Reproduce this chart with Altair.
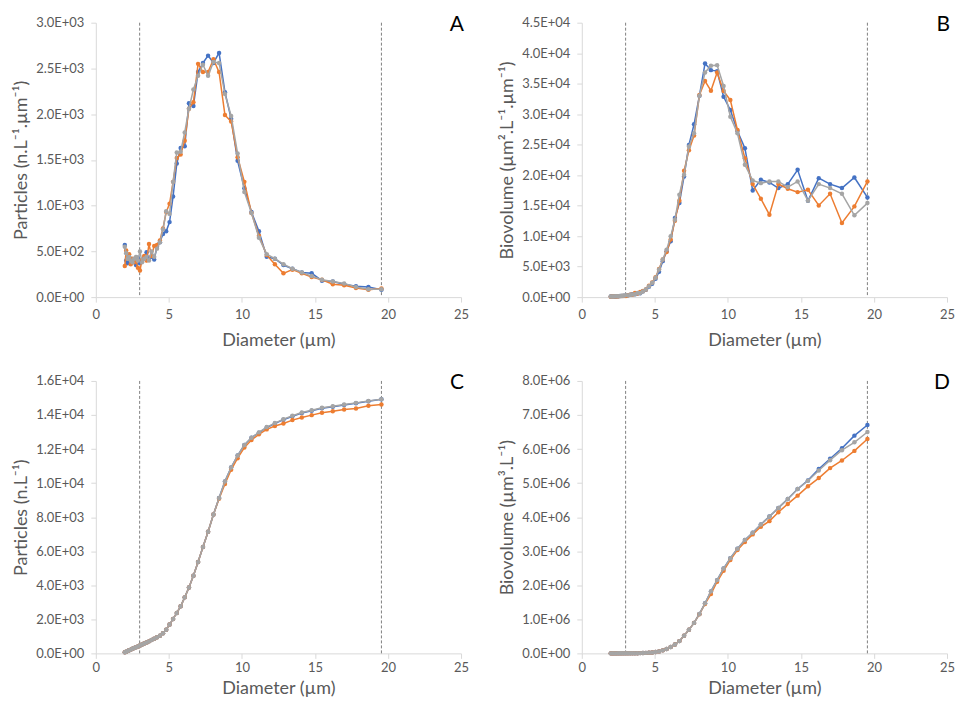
import altair as alt
import pandas as pd

# Bin diameters (µm)
diameter = [1.984, 2.079, 2.178, 2.282, 2.391, 2.506, 2.625, 2.751, 2.882, 3.020,
            3.165, 3.316, 3.474, 3.640, 3.814, 3.997, 4.188, 4.388, 4.598, 4.818,
            5.048, 5.289, 5.542, 5.807, 6.085, 6.375, 6.680, 7.000, 7.334, 7.685,
            8.052, 8.437, 8.840, 9.263, 9.706, 10.169, 10.655, 11.165, 11.698, 12.257,
            12.843, 13.457, 14.101, 14.775, 15.481, 16.221, 16.996, 17.808, 18.660, 19.552]

# Panel A: Particles (n.L-1.µm-1)
a_blue = [570, 400, 370, 400, 420, 380, 400, 350, 430, 370, 400, 430, 490, 420, 440, 410, 550, 600, 690, 720,
          820, 1100, 1460, 1630, 1650, 2120, 2090, 2460, 2560, 2640, 2560, 2670, 2240, 1950, 1490, 1190, 930, 720, 440, 420,
          350, 310, 270, 260, 180, 170, 140, 120, 110, 80]
a_orange = [340, 510, 420, 470, 360, 420, 380, 400, 320, 290, 410, 450, 400, 580, 450, 560, 570, 620, 750, 930,
            1020, 1260, 1520, 1560, 1710, 2060, 2130, 2550, 2460, 2460, 2600, 2460, 1990, 1920, 1530, 1260, 920, 670, 460, 360,
            260, 300, 260, 220, 190, 140, 130, 100, 80, 95]
a_gray = [550, 480, 420, 440, 400, 380, 420, 440, 400, 500, 380, 420, 440, 400, 500, 440, 530, 600, 740, 940,
          910, 1260, 1580, 1590, 1800, 2060, 2270, 2420, 2540, 2420, 2570, 2560, 2220, 1980, 1570, 1150, 920, 650, 470, 420,
          360, 310, 270, 230, 190, 170, 150, 110, 85, 85]

# Panel B: Biovolume (µm2.L-1.µm-1)
b_blue = [107, 86, 92, 113, 137, 143, 173, 174, 246, 243, 303, 375, 491, 484, 583, 626, 965, 1210, 1720, 2200,
          3000, 4140, 5900, 7520, 9160, 12970, 15420, 19780, 24960, 28340, 33030, 38310, 37220, 37060, 32860, 30680, 27250, 24420, 17500, 19240,
          18800, 17880, 18530, 20870, 15810, 19510, 18530, 17880, 19620, 16350]
b_orange = [64, 110, 104, 134, 118, 158, 164, 199, 183, 191, 311, 392, 401, 669, 597, 855, 1000, 1250, 1850, 2400,
            3250, 4600, 6160, 7410, 9430, 12540, 15810, 20710, 24090, 26490, 33140, 35430, 33850, 36840, 33790, 32320, 27410, 22780, 18530, 16130,
            13520, 18530, 17770, 17220, 17600, 15040, 16950, 12150, 14880, 18970]
b_gray = [103, 103, 104, 125, 131, 143, 181, 219, 229, 329, 288, 366, 441, 461, 663, 671, 930, 1250, 1800, 2340,
          3160, 4520, 6160, 7790, 9970, 12700, 16790, 20060, 24690, 26870, 33030, 36840, 37930, 38040, 34610, 29590, 26870, 21690, 19130, 18690,
          18970, 18970, 18040, 18970, 15800, 18530, 17880, 16950, 13410, 15420]

# Panel C: cumulative Particles (n.L-1)
c_blue = [60, 100, 140, 180, 220, 265, 310, 355, 405, 460, 515, 575, 640, 705, 780, 860, 945, 1031, 1187, 1382,
          1693, 2024, 2374, 2763, 3289, 3873, 4554, 5371, 6247, 7142, 8154, 9127, 10100, 10917, 11618, 12240, 12660, 12960, 13260, 13495,
          13725, 13920, 14115, 14255, 14390, 14490, 14590, 14690, 14810, 14926]
c_orange = [60, 100, 140, 180, 220, 265, 310, 355, 405, 460, 515, 575, 640, 705, 780, 860, 945, 1031, 1187, 1382,
            1693, 2024, 2374, 2763, 3289, 3873, 4554, 5371, 6247, 7142, 8154, 9088, 9944, 10781, 11462, 12085, 12532, 12863, 13155, 13350,
            13505, 13700, 13856, 13992, 14128, 14225, 14323, 14381, 14537, 14614]
c_gray = [60, 100, 140, 180, 220, 265, 310, 355, 405, 460, 515, 575, 640, 705, 780, 860, 945, 1031, 1187, 1382,
          1693, 2024, 2374, 2763, 3289, 3873, 4554, 5371, 6247, 7142, 8154, 9127, 10100, 10917, 11618, 12240, 12668, 12980, 13291, 13525,
          13758, 13953, 14147, 14284, 14420, 14517, 14614, 14712, 14829, 14926]

# Panel D: cumulative Biovolume (µm3.L-1)
d_blue = [20, 45, 80, 130, 190, 280, 400, 550, 800, 1100, 1600, 2200, 3000, 4000, 5500, 7500, 10000, 14000, 20000, 28000,
          40000, 58000, 88000, 127000, 185000, 263000, 360000, 516000, 691000, 895000, 1158000, 1470000, 1820000, 2151000, 2491000, 2793000, 3075000, 3328000, 3542000, 3786000,
          4019000, 4272000, 4535000, 4827000, 5080000, 5411000, 5713000, 6024000, 6394000, 6705000]
d_orange = [20, 45, 80, 130, 190, 280, 400, 550, 800, 1100, 1600, 2200, 3000, 4000, 5500, 7500, 10000, 14000, 20000, 28000,
            40000, 58000, 88000, 127000, 185000, 263000, 360000, 516000, 691000, 895000, 1150000, 1450000, 1742000, 2102000, 2423000, 2744000, 3036000, 3270000, 3494000, 3718000,
            3883000, 4146000, 4389000, 4632000, 4905000, 5148000, 5440000, 5664000, 5946000, 6297000]
d_gray = [20, 45, 80, 130, 190, 280, 400, 550, 800, 1100, 1600, 2200, 3000, 4000, 5500, 7500, 10000, 14000, 20000, 28000,
          40000, 58000, 88000, 127000, 185000, 263000, 360000, 516000, 691000, 895000, 1158000, 1470000, 1820000, 2151000, 2491000, 2793000, 3075000, 3328000, 3542000, 3786000,
          4019000, 4272000, 4535000, 4827000, 5070000, 5372000, 5674000, 5966000, 6199000, 6501000]

vlines = [3.0, 19.55]
x_ticks = [0, 5, 10, 15, 20, 25]
colors = ["#4472C4", "#ED7D31", "#A5A5A5"]

W = 366
FONT = "Lato"

EXP = "floor(log(datum.value) / LN10 + 1e-9)"
LABEL = ("datum.value == 0 ? '0.0E+00' : format(datum.value / pow(10, " + EXP + "), '.1f') + 'E+' + ("
         + EXP + " < 10 ? '0' : '') + " + EXP)


def panel(series, ymax, ystep, ytitle, letter, h, lpad, tpad):
    n = int(round(ymax / ystep))
    yvals = [i * ystep for i in range(n + 1)]
    xscale = alt.Scale(domain=[0, 25], nice=False, zero=False)
    yscale = alt.Scale(domain=[0, ymax], nice=False)
    xaxis = alt.Axis(values=x_ticks, title="Diameter (µm)", format="d", labelFlush=False,
                     labelPadding=lpad, titlePadding=tpad)
    yaxis = alt.Axis(values=yvals, title=ytitle, labelExpr=LABEL, labelPadding=7,
                     minExtent=62, maxExtent=62, titlePadding=3)
    rules = alt.Chart(pd.DataFrame({"d": vlines})).mark_rule(
        color="#7f7f7f", strokeWidth=1, strokeDash=[3, 2]
    ).encode(x=alt.X("d:Q", scale=xscale, axis=xaxis))
    layers = [rules]
    for color, vals in zip(colors, series):
        df = pd.DataFrame({"d": diameter, "v": vals})
        base = alt.Chart(df).encode(
            x=alt.X("d:Q", scale=xscale, axis=xaxis),
            y=alt.Y("v:Q", scale=yscale, axis=yaxis),
        )
        layers.append(base.mark_line(color=color, strokeWidth=1.5))
        layers.append(base.mark_circle(color=color, size=20, opacity=1))
    txt = alt.Chart(pd.DataFrame({"t": [letter]})).mark_text(
        align="right", baseline="middle", fontSize=21, font=FONT, color="black"
    ).encode(x=alt.value(W + 3), y=alt.value(2), text="t:N")
    layers.append(txt)
    return alt.layer(*layers).properties(width=W, height=h)


pA = panel([a_blue, a_orange, a_gray], 3000, 500, "Particles (n.L⁻¹.µm⁻¹)", "A", 275, 6, 10)
pB = panel([b_blue, b_orange, b_gray], 45000, 5000, "Biovolume (µm².L⁻¹.µm⁻¹)", "B", 275, 6, 10)
pC = panel([c_blue, c_orange, c_gray], 16000, 2000, "Particles (n.L⁻¹)", "C", 273, 3, 5)
pD = panel([d_blue, d_orange, d_gray], 8000000, 1000000, "Biovolume (µm³.L⁻¹)", "D", 273, 3, 5)

chart = alt.vconcat(
    alt.hconcat(pA, pB, spacing=30),
    alt.hconcat(pC, pD, spacing=30),
    spacing=23,
).properties(
    padding={"left": 5, "top": 5, "right": 0, "bottom": 0}
).configure_axis(
    grid=False,
    domainColor="#D9D9D9",
    tickColor="#D9D9D9",
    tickSize=5,
    labelColor="#595959",
    labelFont=FONT,
    labelFontSize=13,
    titleFont=FONT,
    titleFontSize=18,
    titleFontWeight="normal",
    titleColor="#595959",
).configure_view(stroke=None)

chart.save("out.html", embed_options={"renderer": "svg", "actions": False})
